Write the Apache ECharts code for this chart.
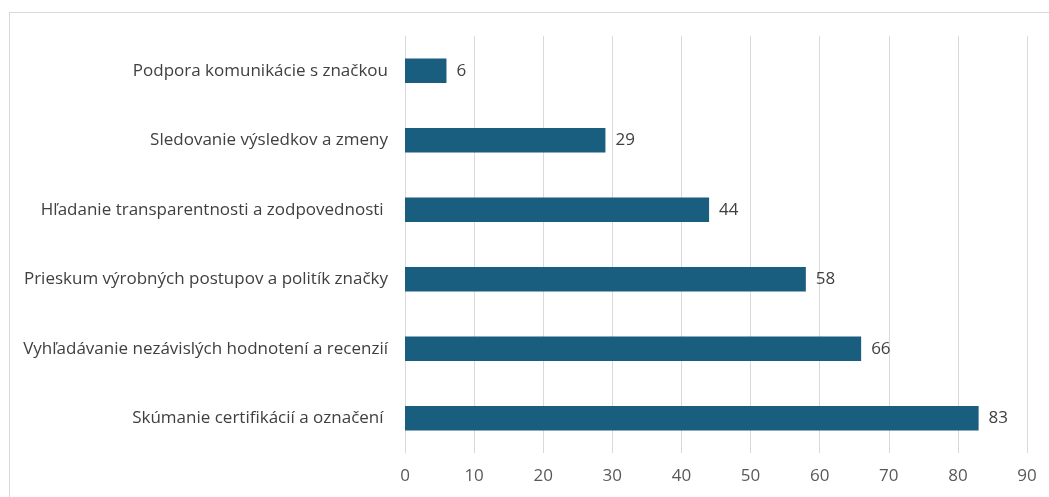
<!DOCTYPE html>
<html>
<head>
<meta charset="utf-8">
<script src="https://cdn.jsdelivr.net/npm/echarts@6/dist/echarts.min.js"></script>
<style>
html,body{margin:0;padding:0;background:#fff;}
#frame{position:absolute;left:9px;top:12px;width:1060px;height:500px;border:1px solid #d9d9d9;box-sizing:border-box;}
#chart{position:absolute;left:0;top:0;width:1049px;height:497px;}
</style>
</head>
<body>
<div id="frame"></div>
<div id="chart"></div>
<script>
const categories = [
  "Skúmanie certifikácií a označení ",
  "Vyhľadávanie nezávislých hodnotení a recenzií",
  "Prieskum výrobných postupov a politík značky",
  "Hľadanie transparentnosti a zodpovednosti ",
  "Sledovanie výsledkov a zmeny",
  "Podpora komunikácie s značkou"
];
const values = [83, 66, 58, 44, 29, 6];
const axisMin = 0, axisMax = 90, axisStep = 10;

const chart = echarts.init(document.getElementById('chart'), null, {renderer:'canvas'});
const font = '"Open Sans", Roboto, sans-serif';
chart.setOption({
  animation:false,
  grid:{left:405, right:22, top:36, bottom:44, containLabel:false},
  xAxis:{
    type:'value', min:axisMin, max:axisMax, interval:axisStep,
    axisLine:{show:false}, axisTick:{show:false},
    splitLine:{show:true, lineStyle:{color:'#d9d9d9', width:1}},
    axisLabel:{color:'#595959', fontSize:17, fontFamily:font, margin:15}
  },
  yAxis:{
    type:'category', data:categories,
    axisLine:{show:true, lineStyle:{color:'#d9d9d9', width:1}},
    axisTick:{show:false},
    axisLabel:{color:'#404040', fontSize:17, fontFamily:font, margin:17}
  },
  series:[{
    type:'bar', data:values, barCategoryGap:'65%',
    itemStyle:{color:'#195d7f'},
    label:{show:true, position:'right', distance:10, color:'#404040', fontSize:17, fontFamily:font}
  }]
});
</script>
</body>
</html>
